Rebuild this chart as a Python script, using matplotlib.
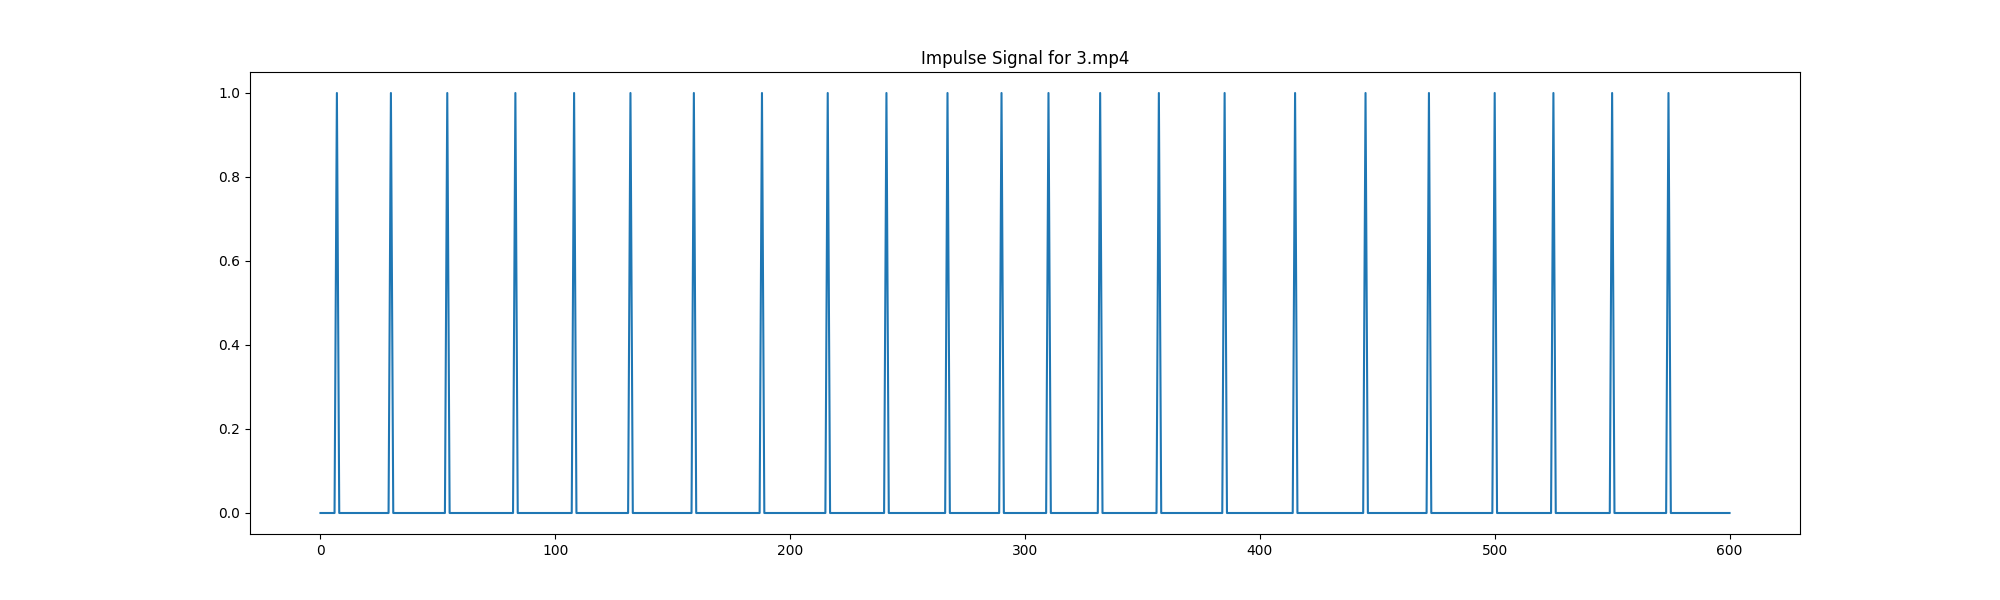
import numpy as np
import matplotlib
matplotlib.use("Agg")
import matplotlib.pyplot as plt

n_samples = 601
spike_frames = [7, 30, 54, 83, 108, 132, 159, 188, 216, 241, 267, 290, 310,
                332, 357, 385, 415, 445, 472, 500, 525, 550, 574]
spike_height = 1.0

signal = np.zeros(n_samples)
signal[spike_frames] = spike_height

fig, ax = plt.subplots(figsize=(20, 6), dpi=100)
ax.plot(np.arange(n_samples), signal)
ax.set_title("Impulse Signal for 3.mp4")
fig.savefig("out.png")
